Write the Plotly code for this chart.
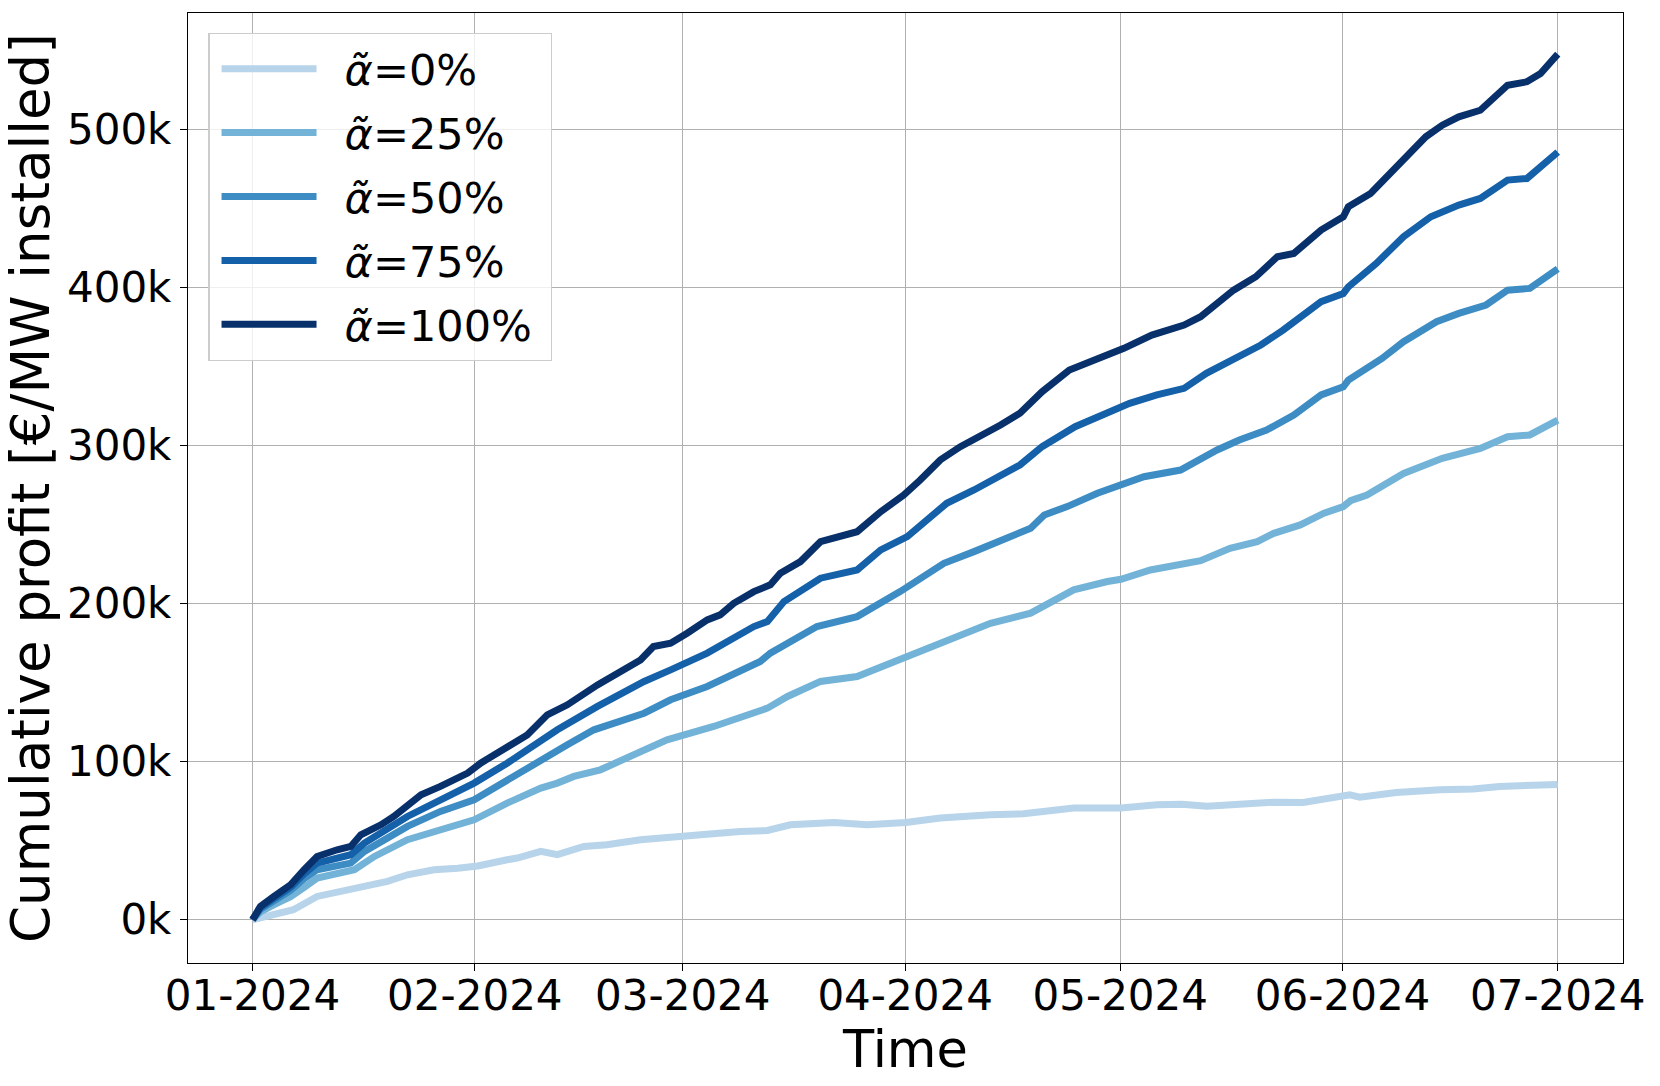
import pandas as pd
import plotly.graph_objects as go

START = pd.Timestamp("2024-01-01")

# share labels (alpha tilde) and colours (Blues colormap)
share_labels = ["0%", "25%", "50%", "75%", "100%"]
colors = ["#b7d4ea", "#73b3d8", "#3d8dc4", "#1561a9", "#08306b"]

# days since 2024-01-01, cumulative profit in k€/MW installed
days_0 = [0, 3, 5.7, 9.0, 12.2, 13.7, 16, 18.8, 21.6, 25.3, 28.6, 31.4, 35.5, 36.9,
          40.2, 42.5, 46.2, 49.4, 54.1, 60.1, 64.3, 68, 71.8, 75, 81.1, 85.7, 91.1,
          95.9, 102.9, 107.5, 114.5, 119.1, 121.1, 126.1, 129.6, 133.1, 137.5, 142.4,
          146.5, 149.8, 153, 154.4, 159.5, 165.6, 170.2, 173.9, 178.5, 180.4, 182]
profit_0 = [0, 3.2, 6.3, 14.7, 17.9, 19, 22.1, 24.2, 28.4, 31.6, 32.6, 34, 37.9, 39,
            43.2, 41.1, 46.3, 47.4, 50.6, 53, 53.7, 55.8, 56.4, 60, 61.5, 60, 61.5,
            64.3, 66.4, 67, 70.6, 70.2, 70.6, 72.7, 73, 71.8, 73.5, 74.3,
            74.1, 76.5, 79, 77.5, 80.5, 82.2, 82.6, 84.3, 84.7, 85.8, 85.5]

days_25 = [0, 1.1, 3.0, 5.3, 7.2, 9.0, 14.2, 17, 21.6, 26.2, 30.9, 35.5, 40.2, 42.5,
           44.8, 48.5, 53.5, 57.8, 64.3, 71.8, 74.6, 79.2, 84.3, 90.3, 95.9, 100.6,
           102.9, 108.5, 114.5, 119.2, 121.1, 125.2, 132.2, 136.3, 140.1, 142.4, 146.1,
           149.4, 152.1, 153.1, 155.4, 160.5, 165.9, 171.2, 175, 178.1, 182]
profit_25 = [0, 5, 9.5, 14.5, 20.5, 26.3, 31.6, 40, 50.6, 56.9, 63.2, 73.7, 83.2, 86.4,
             90.6, 94.8, 104.5, 113.8, 122.2, 133.8, 141.2, 150.7, 153.8, 164.3, 174.9, 182.3,
             187.5, 193.9, 208.6, 213.9, 215.3, 221.2, 227.1, 234.9, 239.1, 244.4, 249.7,
             257.1, 261.3, 265, 268.6, 282.3, 291.8, 298.1, 305.5, 306.6, 316]

days_50 = [0, 1.1, 3.0, 5.3, 7.2, 9.0, 13.7, 15.6, 21.6, 26.2, 30.9, 35.5, 40, 43.9,
           47.6, 54.6, 58.3, 63.4, 70.8, 72.2, 78.7, 84.3, 90.3, 96.4, 100.6, 104.3,
           108.5, 110.4, 113.6, 117.8, 121.5, 124.3, 129.4, 134.5, 137.6, 141.4, 145.2,
           149, 152.1, 152.8, 157.5, 160.5, 165.1, 168.2, 172, 175, 178.1, 182]
profit_50 = [0, 6.5, 12, 18.5, 26, 31.6, 35.8, 43.2, 59, 68.5, 75.9, 88.5, 101.1, 110.6,
             120.1, 130.6, 139.1, 147.5, 163.3, 168.6, 185.4, 191.7, 207.5, 225.4, 232.8, 240.2,
             247.6, 256, 261.3, 269.7, 275.6, 280.2, 284.4, 297.1, 303.4, 309.7, 319.2,
             331.9, 337.1, 341.3, 355, 365.6, 378.2, 383.5, 388.8, 398.2, 399.3, 411.7]

days_75 = [0, 1.1, 3.0, 5.3, 7.2, 9.0, 13.7, 15.6, 21.6, 26.2, 30.9, 35.5, 40, 42.5,
           48.1, 54.6, 58.3, 63.4, 69.9, 71.8, 74.1, 79.2, 84.3, 87.6, 91.3, 96.8, 100.6,
           104.3, 107, 110.1, 114.7, 118.5, 122.3, 126.1, 129.9, 133, 136.8, 140.6, 143.7,
           149, 152.1, 152.8, 156.7, 160.5, 164.3, 168.2, 171.2, 175, 177.7, 182]
profit_75 = [0, 7.5, 13.5, 20.5, 29, 35.8, 41.1, 48.5, 65.3, 75.9, 86.4, 99, 112.5, 120.1,
             134.9, 150.7, 158, 168.6, 185.4, 188.6, 201.2, 216, 221.2, 233.9, 242.3, 263.4, 271.8,
             281.3, 287.6, 299.2, 311.8, 319.2, 326.6, 331.9, 336.1, 345.6, 355, 363.5, 372.9,
             390.9, 396.1, 400.3, 415.1, 432, 444.6, 452, 456.2, 467.8, 468.8, 485.5]

days_100 = [0, 1.1, 3.0, 5.3, 7.2, 9.0, 11.8, 13.7, 15.1, 17.9, 19.7, 21.6, 23.5, 26.2,
            30.0, 31.8, 35.5, 38.3, 41.1, 43.9, 48.1, 50.8, 54.1, 55.9, 58.3, 60.6, 63.4,
            65.2, 67.1, 69.9, 72.2, 73.6, 76.4, 79.2, 81.0, 84.3, 87.6, 90.8, 93.1, 95.9,
            98.7, 101.9, 104.3, 107, 110.1, 113.9, 117.7, 121.5, 125.4, 129.9, 132.2, 136.8,
            139.9, 142.9, 145.2, 149, 152.1, 152.8, 155.9, 159, 161.3, 163.6, 165.9, 168.2,
            171.2, 172.8, 175, 177.7, 179.6, 182]
profit_100 = [0, 8.4, 14.7, 22.1, 31.6, 40, 44.2, 46.3, 53.7, 60, 65.3, 72.7, 79, 84.3,
              92.7, 99, 109.6, 116.9, 129.6, 135.9, 148.5, 155.9, 164.3, 172.8, 174.9, 181.2, 189.6,
              192.8, 200.1, 207.5, 211.8, 219.1, 226.5, 239.1, 241.2, 245.4, 258.1, 268.6, 278.1, 290.8,
              299.2, 306.6, 312.9, 320.3, 334, 347.7, 354, 361.4, 369.8, 376.1, 381.4, 398.2,
              406.7, 419.3, 421.4, 436.2, 444.6, 450.9, 459.3, 474.1, 484.6, 495.2, 502.5, 507.8,
              512, 518.3, 527.8, 530, 535.2, 547.5]

all_days = [days_0, days_25, days_50, days_75, days_100]
all_profit = [profit_0, profit_25, profit_50, profit_75, profit_100]

FONT = "DejaVu Sans"

fig = go.Figure()
for label, days, vals, color in zip(share_labels, all_days, all_profit, colors):
    fig.add_trace(go.Scatter(
        x=START + pd.to_timedelta(days, unit="D"),
        y=vals,
        mode="lines",
        name=f"<i>α̃</i>={label}\u00a0",
        legendgroup=label,
        line=dict(color=color, width=7),
    ))

x_lo = START - pd.Timedelta(days=9.0)
x_hi = START + pd.Timedelta(days=191.1)

axis_common = dict(
    showgrid=True, gridcolor="#b0b0b0", gridwidth=1.3,
    zeroline=False,
    showline=True, linecolor="black", linewidth=1.3, mirror=True,
    ticks="outside", ticklen=7, tickwidth=1.3, tickcolor="black",
    tickfont=dict(family=FONT, size=42, color="black"),
)

fig.update_layout(
    width=1660, height=1086,
    margin=dict(l=188, r=37, t=13, b=123),
    paper_bgcolor="white", plot_bgcolor="white",
    font=dict(family=FONT, color="black"),
    xaxis=dict(
        type="date", range=[x_lo, x_hi],
        tick0="2024-01-01", dtick="M1", tickformat="%m-%Y",
        ticklabelstandoff=-12,
        title=dict(text="Time", font=dict(family=FONT, size=51), standoff=2),
        **axis_common,
    ),
    yaxis=dict(
        range=[-27.4, 573.5], tick0=0, dtick=100, ticksuffix="k",
        title=dict(text="Cumulative profit [€/MW installed]", font=dict(family=FONT, size=53), standoff=12),
        **axis_common,
    ),
    legend=dict(
        x=0.0141, y=0.979, xanchor="left", yanchor="top",
        bgcolor="rgba(255,255,255,0.8)", bordercolor="#cccccc", borderwidth=1.3,
        font=dict(family=FONT, size=43, color="black"),
        traceorder="grouped", tracegroupgap=5,
        itemwidth=125,
    ),
    showlegend=True,
)

post = """
document.body.style.margin = '0';
document.querySelectorAll('g.legendlines path.js-line').forEach(function(p){p.setAttribute('d','M12,0h95');});
"""

fig.write_html("out.html", post_script=post, config={"displayModeBar": False})
